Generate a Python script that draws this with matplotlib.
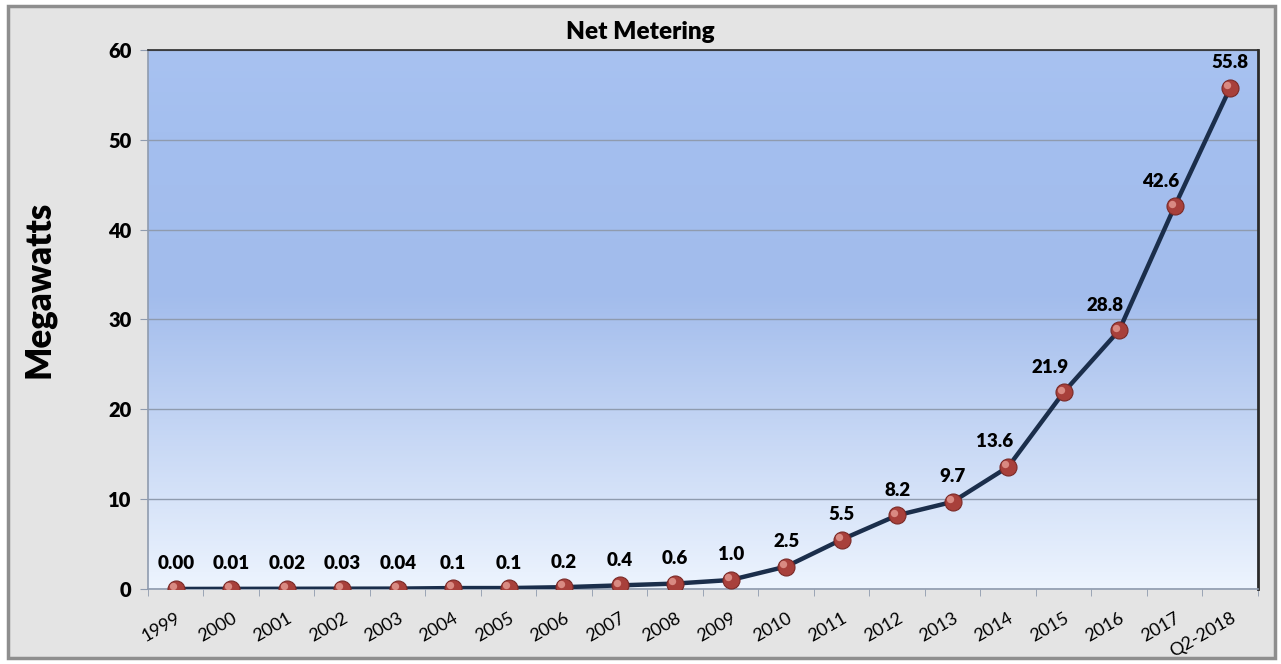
import numpy as np
import matplotlib
matplotlib.use('Agg')
import matplotlib.pyplot as plt
from matplotlib.colors import LinearSegmentedColormap
from matplotlib.patches import Rectangle

# data
years = ['1999', '2000', '2001', '2002', '2003', '2004', '2005', '2006', '2007', '2008',
         '2009', '2010', '2011', '2012', '2013', '2014', '2015', '2016', '2017', 'Q2-2018']
megawatts = [0.00, 0.01, 0.02, 0.03, 0.04, 0.1, 0.1, 0.2, 0.4, 0.6,
             1.0, 2.5, 5.5, 8.2, 9.7, 13.6, 21.9, 28.8, 42.6, 55.8]
value_labels = ['0.00', '0.01', '0.02', '0.03', '0.04', '0.1', '0.1', '0.2', '0.4', '0.6',
                '1.0', '2.5', '5.5', '8.2', '9.7', '13.6', '21.9', '28.8', '42.6', '55.8']
y_ticks = [0, 10, 20, 30, 40, 50, 60]

plt.rcParams['font.family'] = ['Lato', 'DejaVu Sans']

fig = plt.figure(figsize=(12.81, 6.64), dpi=100)
fig.patch.set_facecolor('white')

# outer chart frame
fig.patches.append(Rectangle((0.006, 0.009), 0.989, 0.982, transform=fig.transFigure,
                             facecolor='#E4E4E4', edgecolor='#8E8E8E', lw=2.5, zorder=-5))

ax = fig.add_axes([0.1155, 0.113, 0.8665, 0.8117])
ax.set_zorder(2)
ax.set_facecolor('none')

# gradient plot-area background
grad_cmap = LinearSegmentedColormap.from_list(
    'bg', [(0.0, '#EDF4FE'), (0.55, '#A2BCEC'), (0.85, '#A4BFEF'), (1.0, '#A8C2F1')])
grad = np.linspace(0, 1, 256).reshape(-1, 1)
ax.imshow(grad, cmap=grad_cmap, aspect='auto', extent=[0, 1, 0, 1],
          transform=ax.transAxes, origin='lower', zorder=0)

x = np.arange(len(years))
ax.set_xlim(-0.5, len(years) - 0.5)
ax.set_ylim(0, 60)

ax.yaxis.grid(True, color='#8F9BAE', lw=1.0, zorder=1)
ax.set_axisbelow(True)

ax.plot(x, megawatts, color='#1B2E4B', lw=3.2, zorder=3, solid_capstyle='round')
ax.scatter(x, megawatts, s=150, color='#A8403B', edgecolor='#7A2A27', lw=0.8, zorder=4)
ax.scatter(x - 0.05, np.array(megawatts) + 0.3, s=28, color='#D98A82', lw=0, zorder=5)

for i, (xi, yi, lab) in enumerate(zip(x, megawatts, value_labels)):
    dx = 0
    if 0 < i < len(x) - 1 and megawatts[i + 1] - megawatts[i] > 5:
        dx = -10
    ax.annotate(lab, (xi, yi), xytext=(dx, 18), textcoords='offset points',
                ha='center', va='center', fontsize=13.5, fontweight='heavy',
                color='black', zorder=6)

fig.text(0.5, 1 - 32 / 664, 'Net Metering', ha='center', va='center',
         fontsize=17.5, fontweight='heavy')
ax.set_ylabel('Megawatts', fontsize=25, fontweight='heavy')
ax.yaxis.set_label_coords(-0.083, 0.555)

ax.set_yticks(y_ticks)
ax.set_yticklabels([str(t) for t in y_ticks], fontsize=14.5, fontweight='heavy')
ax.tick_params(axis='y', length=6, color='#8F9BAE', pad=6)

ax.set_xticks(x)
ax.set_xticklabels(years, rotation=30, ha='right', va='top', rotation_mode='anchor',
                   fontsize=13)
ax.tick_params(axis='x', which='major', length=0, pad=15)
ax.set_xticks(np.arange(-0.5, len(years), 1), minor=True)
ax.tick_params(axis='x', which='minor', length=5, color='#8F9BAE')

for side in ['left', 'bottom']:
    ax.spines[side].set_color('#8F9BAE')
    ax.spines[side].set_linewidth(1.2)
ax.spines['top'].set_color('#2A2A2A')
ax.spines['top'].set_linewidth(1.2)
ax.spines['right'].set_color('#2A2A2A')
ax.spines['right'].set_linewidth(2)

fig.savefig('out.png', dpi=100, facecolor=fig.get_facecolor())
